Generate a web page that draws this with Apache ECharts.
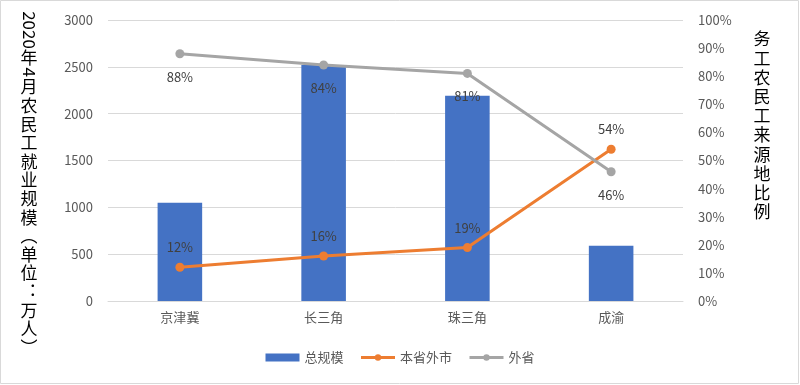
<!DOCTYPE html>
<html><head><meta charset="utf-8">
<script src="https://cdn.jsdelivr.net/npm/echarts@6/dist/echarts.min.js"></script>
<style>html,body{margin:0;padding:0;background:#fff}#c{width:800px;height:385px}</style>
</head><body><div id="c"></div>
<script>
const categories = ['京津冀', '长三角', '珠三角', '成渝'];
const totalScale = [1050, 2520, 2190, 590];
const inProvince = [12, 16, 19, 54];
const outProvince = [88, 84, 81, 46];
const leftTicks = [0, 500, 1000, 1500, 2000, 2500, 3000];

const FONT = '"Noto Sans CJK SC", "Noto Sans", sans-serif';
const chart = echarts.init(document.getElementById('c'), null, {renderer: 'canvas'});

// left title vertical layout
const leftParts = [
  {t: '2020', rot: true, h: 36},
  {t: '年', h: 18.6}, {t: '4', rot: true, h: 11},
  {t: '月', h: 18.6}, {t: '农', h: 18.6}, {t: '民', h: 18.6}, {t: '工', h: 18.6},
  {t: '就', h: 18.6}, {t: '业', h: 18.6}, {t: '规', h: 18.6}, {t: '模', h: 18.6},
  {t: '︵', h: 18.6}, {t: '单', h: 18.6}, {t: '位', h: 18.6}, {t: '︓', h: 18.6},
  {t: '万', h: 18.6}, {t: '人', h: 18.6}, {t: '︶', h: 18.6}
];
const leftChildren = [];
let yy = 12;
leftParts.forEach(p => {
  leftChildren.push({
    type: 'text', x: 29, y: yy + p.h / 2, rotation: p.rot ? -Math.PI / 2 : 0,
    style: {text: p.t, fill: '#000', font: '17px ' + FONT, textAlign: 'center', textVerticalAlign: 'middle'}
  });
  yy += p.h;
});
const rightTitle = '务工农民工来源地比例'.split('');
const rightChildren = rightTitle.map((ch, i) => ({
  type: 'text', x: 762, y: 39 + i * 19.2,
  style: {text: ch, fill: '#000', font: '17px ' + FONT, textAlign: 'center', textVerticalAlign: 'middle'}
}));

chart.setOption({
  animation: false,
  textStyle: {fontFamily: FONT},
  grid: {left: 108, right: 117, top: 20, bottom: 84},
  legend: {
    bottom: 16, left: 'center', itemGap: 16, itemWidth: 34, itemHeight: 8,
    textStyle: {fontSize: 13, color: '#595959', fontFamily: FONT},
    lineStyle: {width: 3},
    data: [
      {name: '总规模', icon: 'rect'},
      {name: '本省外市'},
      {name: '外省'}
    ]
  },
  xAxis: {
    type: 'category', data: categories,
    axisLine: {lineStyle: {color: '#D9D9D9'}},
    axisTick: {show: false},
    axisLabel: {color: '#595959', fontSize: 13, margin: 10}
  },
  yAxis: [
    {
      type: 'value', min: leftTicks[0], max: leftTicks[leftTicks.length - 1], interval: 500,
      axisLabel: {color: '#595959', fontSize: 13, margin: 15, formatter: v => String(v)},
      splitLine: {lineStyle: {color: '#D9D9D9'}},
      axisLine: {show: false}, axisTick: {show: false}
    },
    {
      type: 'value', min: 0, max: 100, interval: 10,
      axisLabel: {color: '#595959', fontSize: 13, margin: 15, formatter: '{value}%'},
      splitLine: {show: false},
      axisLine: {show: false}, axisTick: {show: false}
    }
  ],
  series: [
    {
      name: '总规模', type: 'bar', data: totalScale, barWidth: '31%',
      itemStyle: {color: '#4472C4'}
    },
    {
      name: '本省外市', type: 'line', yAxisIndex: 1, data: inProvince,
      symbol: 'circle', symbolSize: 9,
      lineStyle: {color: '#ED7D31', width: 3}, itemStyle: {color: '#ED7D31'},
      label: {show: true, position: 'top', distance: 9, formatter: '{c}%', color: '#404040', fontSize: 13}
    },
    {
      name: '外省', type: 'line', yAxisIndex: 1, data: outProvince,
      symbol: 'circle', symbolSize: 9,
      lineStyle: {color: '#A5A5A5', width: 3}, itemStyle: {color: '#A5A5A5'},
      label: {show: true, position: 'bottom', distance: 12, formatter: '{c}%', color: '#404040', fontSize: 13}
    }
  ],
  graphic: [
    {type: 'rect', shape: {x: 0.5, y: 0.5, width: 798, height: 383}, style: {fill: 'none', stroke: '#D9D9D9', lineWidth: 1}, silent: true},
    {type: 'group', children: leftChildren},
    {type: 'group', children: rightChildren}
  ]
});
</script></body></html>
